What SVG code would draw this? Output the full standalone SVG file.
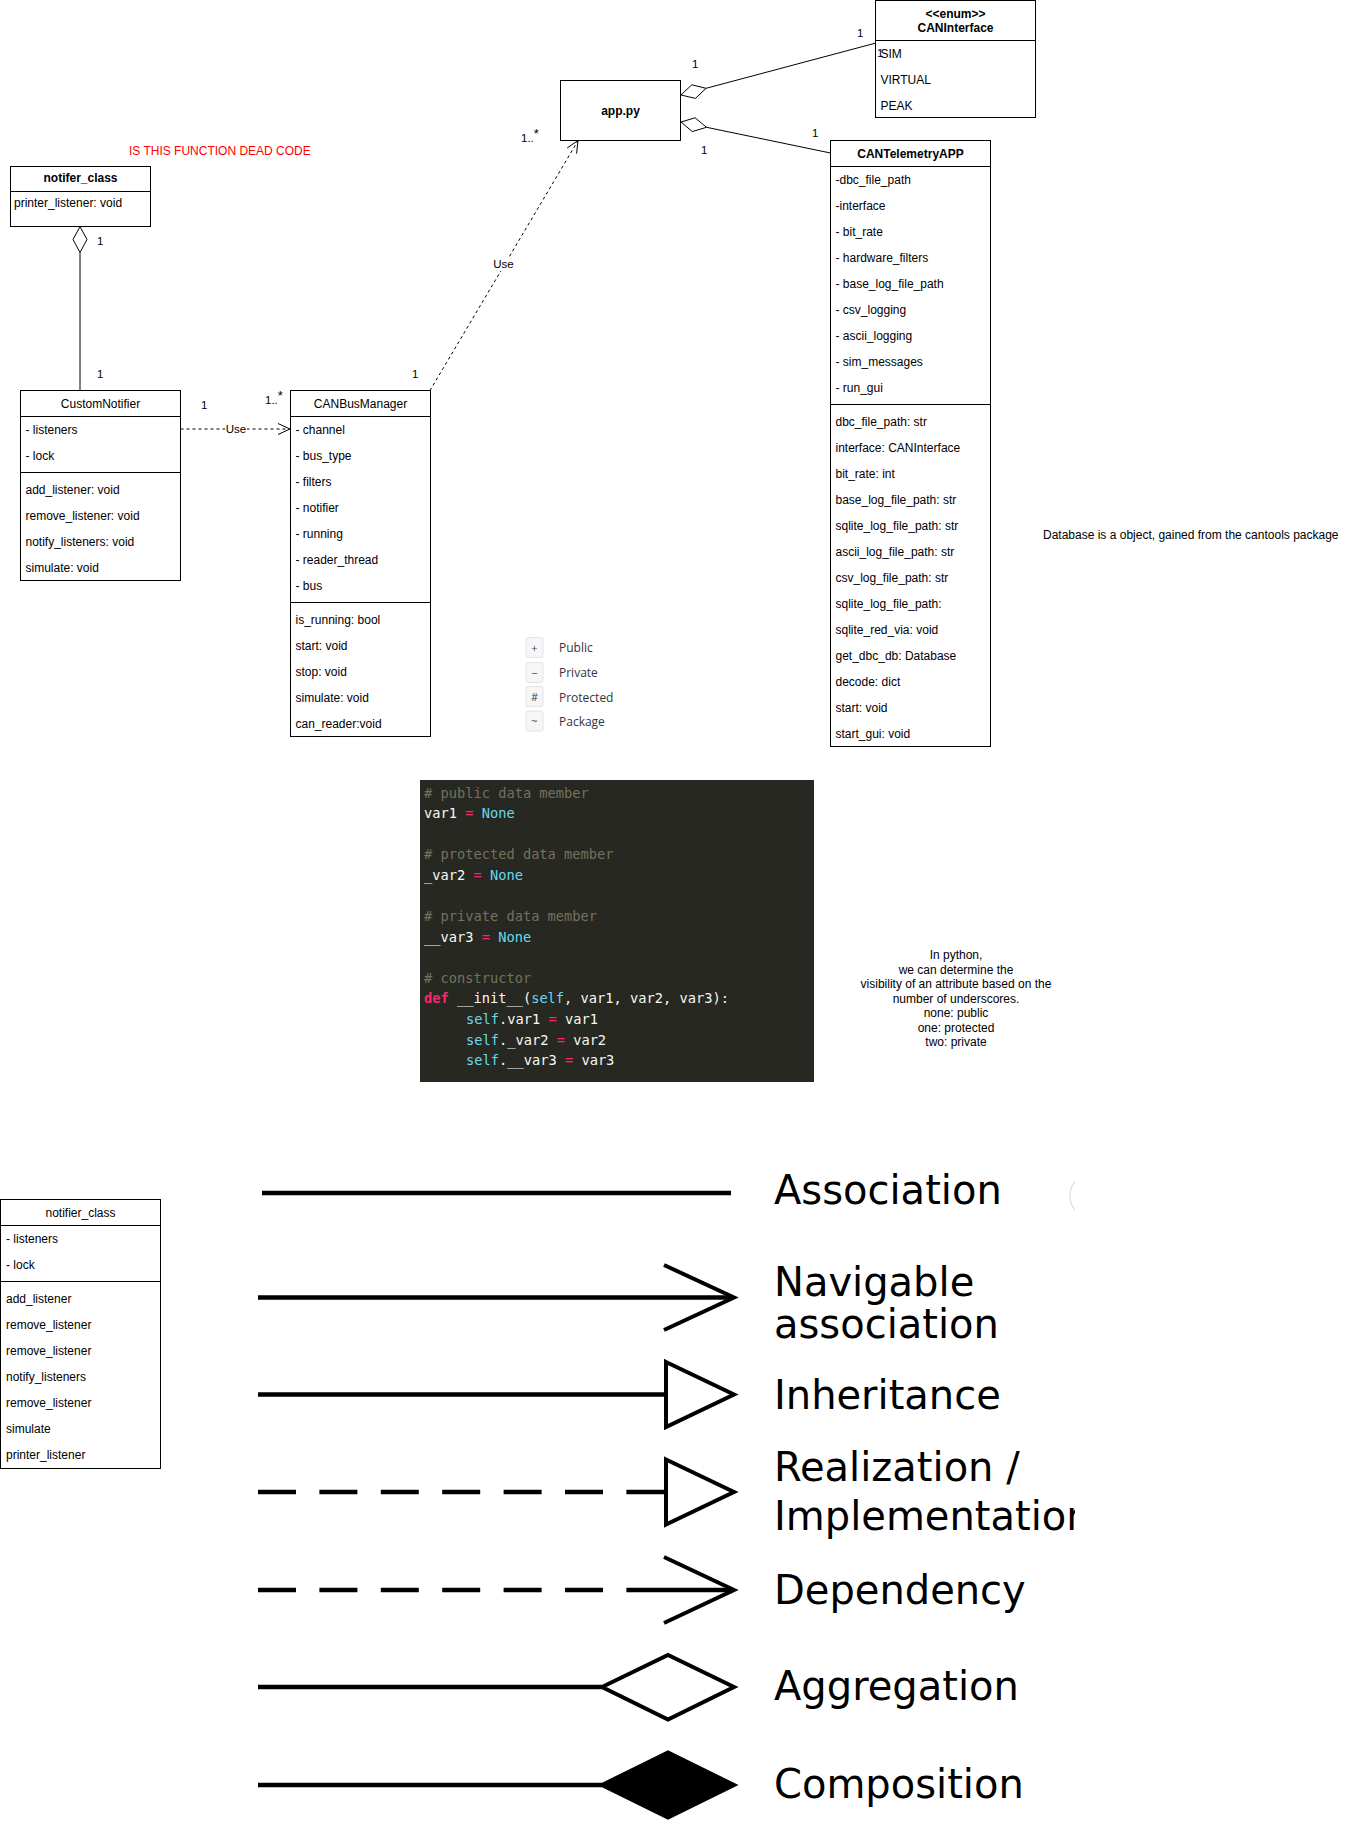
<svg xmlns="http://www.w3.org/2000/svg" width="1351" height="1823" viewBox="0 0 1351 1823">
  <defs>
    <style>
      .box { fill: #ffffff; stroke: #000000; stroke-width: 1; }
      .sep { stroke: #000000; stroke-width: 1; fill: none; }
      .t { font-family: "Liberation Sans", Arial, sans-serif; font-size: 12px; fill: #000000; }
      .b { font-weight: bold; }
      .mid { text-anchor: middle; }
      .lbl { font-family: "Liberation Sans", Arial, sans-serif; font-size: 11.5px; fill: #000000; }
      .edge { stroke: #000000; stroke-width: 1; fill: none; }
      .dash { stroke-dasharray: 3 3; }
      .vis-box { fill: #f6f6f7; stroke: #e4e4e6; stroke-width: 1; }
      .vis { font-family: "Open Sans", "Noto Sans", sans-serif; font-size: 12px; fill: #33363b; }
      .vis-sym { font-family: "Open Sans", "Noto Sans", sans-serif; font-size: 11px; fill: #44484e; text-anchor: middle; }
      .code { font-family: "DejaVu Sans Mono", "Liberation Mono", monospace; font-size: 13.7px; fill: #f8f8f2; }
      .cm { fill: #75715e; }
      .kw { fill: #f92672; }
      .kwb { fill: #f92672; font-weight: bold; }
      .cy { fill: #66d9ef; }
      .big { font-family: "DejaVu Sans", sans-serif; font-size: 40px; fill: #000000; }
      .lg { stroke: #000000; stroke-width: 4.5; fill: none; }
      .lgd { stroke: #000000; stroke-width: 4.5; fill: none; stroke-dasharray: 38 23.4; }
      .head { stroke: #000000; stroke-width: 4; fill: #ffffff; stroke-linejoin: miter; }
      .head-open { stroke: #000000; stroke-width: 4; fill: none; }
    </style>
    <clipPath id="legendClip">
      <rect x="0" y="1140" width="1075" height="683"/>
    </clipPath>
  </defs>

  <rect x="0" y="0" width="1351" height="1823" fill="#ffffff"/>

  <!-- connectors -->
  <g id="connectors">
    <!-- app.py aggregates CANInterface -->
    <polygon class="edge" fill="#ffffff" points="681,95 691.8,84.8 706.1,88.3 695.4,98.4"/>
    <line class="edge" x1="706.1" y1="88.3" x2="876" y2="43"/>
    <!-- app.py aggregates CANTelemetryAPP -->
    <polygon class="edge" fill="#ffffff" points="681,122 695.1,117.8 706.5,127.3 692.3,131.6"/>
    <line class="edge" x1="706.5" y1="127.3" x2="830.5" y2="153"/>
    <!-- notifer_class aggregates CustomNotifier -->
    <polygon class="edge" fill="#ffffff" points="80,226.5 87,239.5 80,252.5 73,239.5"/>
    <line class="edge" x1="80" y1="252.5" x2="80" y2="390.5"/>
    <!-- CustomNotifier uses CANBusManager -->
    <line class="edge dash" x1="180.5" y1="429" x2="289" y2="429"/>
    <polyline class="edge" points="278,423.5 290,429 278,434.5"/>
    <!-- CANBusManager used by app.py -->
    <line class="edge dash" x1="430" y1="390.5" x2="577.5" y2="141.5"/>
    <polyline class="edge" points="567.2,148 578,140.5 576.6,153.6"/>

    <!-- connector labels -->
    <rect x="225" y="422" width="22" height="14" fill="#ffffff"/>
    <text class="lbl mid" x="236" y="433">Use</text>
    <rect x="492" y="257" width="23" height="14" fill="#ffffff"/>
    <text class="lbl mid" x="503.5" y="268">Use</text>

    <text class="lbl" x="857" y="37">1</text>
    <text class="lbl" x="692" y="68">1</text>
    <text class="lbl" x="812" y="137">1</text>
    <text class="lbl" x="701" y="154">1</text>
    <text class="lbl" x="97" y="245">1</text>
    <text class="lbl" x="97" y="378">1</text>
    <text class="lbl" x="201" y="409">1</text>
    <text class="lbl" x="265" y="404">1..<tspan font-size="13" dy="-4">*</tspan></text>
    <text class="lbl" x="412" y="378">1</text>
    <text class="lbl" x="521" y="142">1..<tspan font-size="13" dy="-4">*</tspan></text>
  </g>

  <!-- enum CANInterface -->
  <g id="caninterface">
    <rect class="box" x="875.5" y="0.5" width="160" height="117"/>
    <line class="sep" x1="875.5" y1="40.5" x2="1035.5" y2="40.5"/>
    <text class="t b mid" x="955.5" y="17.5" font-size="10">&lt;&lt;enum&gt;&gt;</text>
    <text class="t b mid" x="955.5" y="31.5">CANInterface</text>
    <text class="t" x="880.5" y="58">SIM</text>
    <text class="t" x="880.5" y="84">VIRTUAL</text>
    <text class="t" x="880.5" y="110">PEAK</text>
    <!-- multiplicity of the aggregation end, drawn over the first literal -->
    <text class="lbl" x="877" y="57">1</text>
  </g>

  <!-- app.py -->
  <g id="app-py">
    <rect class="box" x="560.5" y="80.5" width="120" height="60"/>
    <text class="t b mid" x="620.5" y="114.5">app.py</text>
  </g>

  <!-- CANTelemetryAPP -->
  <g id="cantelemetryapp">
    <rect class="box" x="830.5" y="140.5" width="160" height="606"/>
    <line class="sep" x1="830.5" y1="166.5" x2="990.5" y2="166.5"/>
    <line class="sep" x1="830.5" y1="404.5" x2="990.5" y2="404.5"/>
    <text class="t b mid" x="910.5" y="157.5">CANTelemetryAPP</text>
    <text class="t" x="835.5" y="183.5">-dbc_file_path</text>
    <text class="t" x="835.5" y="209.5">-interface</text>
    <text class="t" x="835.5" y="235.5">- bit_rate</text>
    <text class="t" x="835.5" y="261.5">- hardware_filters</text>
    <text class="t" x="835.5" y="287.5">- base_log_file_path</text>
    <text class="t" x="835.5" y="313.5">- csv_logging</text>
    <text class="t" x="835.5" y="339.5">- ascii_logging</text>
    <text class="t" x="835.5" y="365.5">- sim_messages</text>
    <text class="t" x="835.5" y="391.5">- run_gui</text>
    <text class="t" x="835.5" y="425.5">dbc_file_path: str</text>
    <text class="t" x="835.5" y="451.5">interface: CANInterface</text>
    <text class="t" x="835.5" y="477.5">bit_rate: int</text>
    <text class="t" x="835.5" y="503.5">base_log_file_path: str</text>
    <text class="t" x="835.5" y="529.5">sqlite_log_file_path: str</text>
    <text class="t" x="835.5" y="555.5">ascii_log_file_path: str</text>
    <text class="t" x="835.5" y="581.5">csv_log_file_path: str</text>
    <text class="t" x="835.5" y="607.5">sqlite_log_file_path:</text>
    <text class="t" x="835.5" y="633.5">sqlite_red_via: void</text>
    <text class="t" x="835.5" y="659.5">get_dbc_db: Database</text>
    <text class="t" x="835.5" y="685.5">decode: dict</text>
    <text class="t" x="835.5" y="711.5">start: void</text>
    <text class="t" x="835.5" y="737.5">start_gui: void</text>
  </g>

  <!-- notes -->
  <g id="note-dead-code">
    <text class="t" x="129" y="155" style="fill:#ff0000">IS THIS FUNCTION DEAD CODE</text>
  </g>
  <g id="note-database">
    <text class="t" x="1043" y="538.5">Database is a object, gained from the cantools package</text>
  </g>
  <g id="note-python">
    <text class="t mid" x="956" y="959">In python,</text>
    <text class="t mid" x="956" y="973.5">we can determine the</text>
    <text class="t mid" x="956" y="988">visibility of an attribute based on the</text>
    <text class="t mid" x="956" y="1002.5">number of underscores.</text>
    <text class="t mid" x="956" y="1017">none: public</text>
    <text class="t mid" x="956" y="1031.5">one: protected</text>
    <text class="t mid" x="956" y="1046">two: private</text>
  </g>

  <!-- notifer_class -->
  <g id="notifer-class">
    <rect class="box" x="10.5" y="166.5" width="140" height="60"/>
    <line class="sep" x1="10.5" y1="191.5" x2="150.5" y2="191.5"/>
    <text class="t b mid" x="80.5" y="182">notifer_class</text>
    <text class="t" x="14" y="207">printer_listener: void</text>
  </g>

  <!-- CustomNotifier -->
  <g id="customnotifier">
    <rect class="box" x="20.5" y="390.5" width="160" height="190"/>
    <line class="sep" x1="20.5" y1="416.5" x2="180.5" y2="416.5"/>
    <line class="sep" x1="20.5" y1="472.5" x2="180.5" y2="472.5"/>
    <text class="t mid" x="100.5" y="407.5">CustomNotifier</text>
    <text class="t" x="25.5" y="433.5">- listeners</text>
    <text class="t" x="25.5" y="459.5">- lock</text>
    <text class="t" x="25.5" y="493.5">add_listener: void</text>
    <text class="t" x="25.5" y="519.5">remove_listener: void</text>
    <text class="t" x="25.5" y="545.5">notify_listeners: void</text>
    <text class="t" x="25.5" y="571.5">simulate: void</text>
  </g>

  <!-- CANBusManager -->
  <g id="canbusmanager">
    <rect class="box" x="290.5" y="390.5" width="140" height="346"/>
    <line class="sep" x1="290.5" y1="416.5" x2="430.5" y2="416.5"/>
    <line class="sep" x1="290.5" y1="602.5" x2="430.5" y2="602.5"/>
    <text class="t mid" x="360.5" y="407.5">CANBusManager</text>
    <text class="t" x="295.5" y="433.5">- channel</text>
    <text class="t" x="295.5" y="459.5">- bus_type</text>
    <text class="t" x="295.5" y="485.5">- filters</text>
    <text class="t" x="295.5" y="511.5">- notifier</text>
    <text class="t" x="295.5" y="537.5">- running</text>
    <text class="t" x="295.5" y="563.5">- reader_thread</text>
    <text class="t" x="295.5" y="589.5">- bus</text>
    <text class="t" x="295.5" y="623.5">is_running: bool</text>
    <text class="t" x="295.5" y="649.5">start: void</text>
    <text class="t" x="295.5" y="675.5">stop: void</text>
    <text class="t" x="295.5" y="701.5">simulate: void</text>
    <text class="t" x="295.5" y="727.5">can_reader:void</text>
  </g>

  <!-- visibility key -->
  <g id="visibility-key">
    <rect class="vis-box" x="526" y="637.5" width="17" height="20" rx="2"/>
    <rect class="vis-box" x="526" y="662.5" width="17" height="20" rx="2"/>
    <rect class="vis-box" x="526" y="686.5" width="17" height="20" rx="2"/>
    <rect class="vis-box" x="526" y="711" width="17" height="20" rx="2"/>
    <text class="vis-sym" x="534.5" y="652">+</text>
    <text class="vis-sym" x="534.5" y="677">−</text>
    <text class="vis-sym" x="534.5" y="701">#</text>
    <text class="vis-sym" x="534.5" y="725">~</text>
    <text class="vis" x="559" y="652">Public</text>
    <text class="vis" x="559" y="677">Private</text>
    <text class="vis" x="559" y="701.5">Protected</text>
    <text class="vis" x="559" y="726">Package</text>
  </g>

  <!-- python code sample -->
  <g id="code-sample">
    <rect x="420" y="780" width="394" height="302" fill="#272822"/>
    <text class="code cm" x="424" y="797.5"># public data member</text>
    <text class="code" x="424" y="818">var1 <tspan class="kw">=</tspan> <tspan class="cy">None</tspan></text>
    <text class="code cm" x="424" y="859"># protected data member</text>
    <text class="code" x="424" y="879.5">_var2 <tspan class="kw">=</tspan> <tspan class="cy">None</tspan></text>
    <text class="code cm" x="424" y="921"># private data member</text>
    <text class="code" x="424" y="941.5">__var3 <tspan class="kw">=</tspan> <tspan class="cy">None</tspan></text>
    <text class="code cm" x="424" y="982.5"># constructor</text>
    <text class="code" x="424" y="1003"><tspan class="kwb">def</tspan> __init__(<tspan class="cy">self</tspan>, var1, var2, var3):</text>
    <text class="code" x="466" y="1024"><tspan class="cy">self</tspan>.var1 <tspan class="kw">=</tspan> var1</text>
    <text class="code" x="466" y="1044.5"><tspan class="cy">self</tspan>._var2 <tspan class="kw">=</tspan> var2</text>
    <text class="code" x="466" y="1065"><tspan class="cy">self</tspan>.__var3 <tspan class="kw">=</tspan> var3</text>
  </g>

  <!-- notifier_class -->
  <g id="notifier-class">
    <rect class="box" x="0.5" y="1199.5" width="160" height="269"/>
    <line class="sep" x1="0.5" y1="1225.5" x2="160.5" y2="1225.5"/>
    <line class="sep" x1="0.5" y1="1281.5" x2="160.5" y2="1281.5"/>
    <text class="t mid" x="80.5" y="1216.5">notifier_class</text>
    <text class="t" x="6" y="1243">- listeners</text>
    <text class="t" x="6" y="1269">- lock</text>
    <text class="t" x="6" y="1303">add_listener</text>
    <text class="t" x="6" y="1329">remove_listener</text>
    <text class="t" x="6" y="1355">remove_listener</text>
    <text class="t" x="6" y="1381">notify_listeners</text>
    <text class="t" x="6" y="1407">remove_listener</text>
    <text class="t" x="6" y="1433">simulate</text>
    <text class="t" x="6" y="1459">printer_listener</text>
  </g>

  <!-- relationship notation key -->
  <g id="relationship-key" clip-path="url(#legendClip)">
    <line class="lg" x1="262" y1="1193" x2="731" y2="1193"/>
    <text class="big" x="774" y="1204">Association</text>

    <line class="lg" x1="258" y1="1297.5" x2="732" y2="1297.5"/>
    <polyline class="head-open" points="664,1265 734,1297.5 664,1330"/>
    <text class="big" x="774" y="1296">Navigable</text>
    <text class="big" x="774" y="1338">association</text>

    <line class="lg" x1="258" y1="1394.5" x2="666" y2="1394.5"/>
    <polygon class="head" points="666,1362 734,1394.5 666,1427"/>
    <text class="big" x="774" y="1409">Inheritance</text>

    <line class="lgd" x1="258" y1="1492" x2="666" y2="1492"/>
    <polygon class="head" points="666,1459.5 734,1492 666,1524.5"/>
    <text class="big" x="774" y="1481">Realization /</text>
    <text class="big" x="774" y="1530">Implementation</text>

    <line class="lgd" x1="258" y1="1590" x2="604" y2="1590"/>
    <line class="lg" x1="626.4" y1="1590" x2="732" y2="1590"/>
    <polyline class="head-open" points="664,1557 734,1590 664,1623"/>
    <text class="big" x="774" y="1604">Dependency</text>

    <line class="lg" x1="258" y1="1687" x2="602" y2="1687"/>
    <polygon class="head" points="602,1687 668,1655 734,1687 668,1719.5"/>
    <text class="big" x="774" y="1700">Aggregation</text>

    <line class="lg" x1="258" y1="1785" x2="602" y2="1785"/>
    <polygon class="head" style="fill:#000000" points="602,1785 668,1752.5 734,1785 668,1817.5"/>
    <text class="big" x="774" y="1798">Composition</text>

    <path d="M1079,1178 A 22 22 0 0 0 1077,1212" stroke="#e2e2e2" stroke-width="1.5" fill="none"/>
  </g>
</svg>
